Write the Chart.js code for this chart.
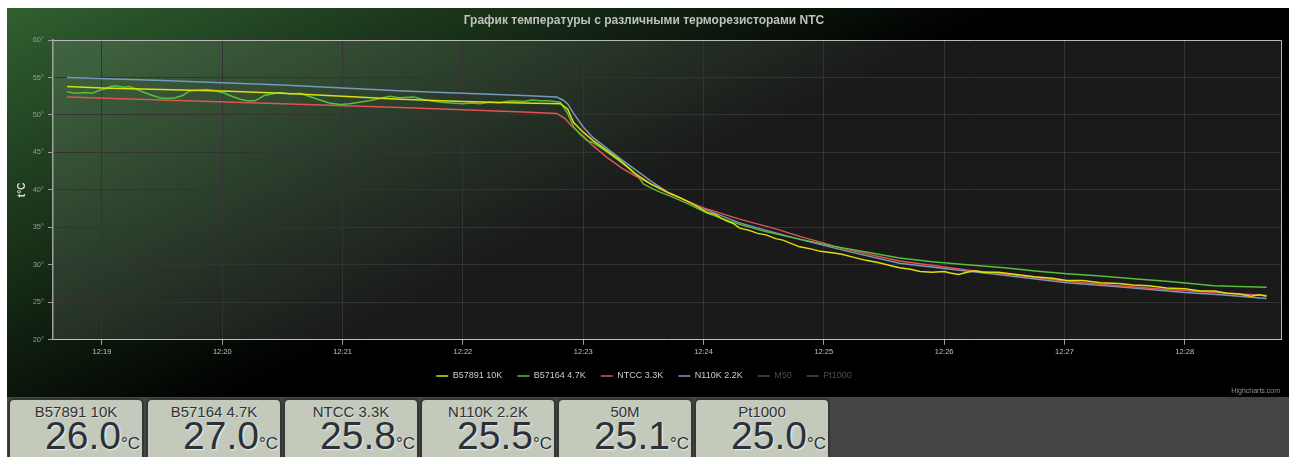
<!DOCTYPE html>
<html>
<head>
<meta charset="utf-8">
<script src="https://cdn.jsdelivr.net/npm/chart.js@4.4.1/dist/chart.umd.min.js"></script>
<style>
  html, body { margin:0; padding:0; background:#fff; width:1293px; height:457px; overflow:hidden; }
  #wrap { position:absolute; left:7px; top:8px; width:1282px; height:389px; background:#000; }
  #panel { position:absolute; left:7px; top:397px; width:1282px; height:60px; background:#444; overflow:hidden; }
  .card { position:absolute; top:1px; width:136px; height:64px; box-sizing:border-box;
          background:#c3c9bb; border:2px solid #363636; border-radius:6px 6px 0 0;
          font-family:"Liberation Sans", Arial, sans-serif; color:#2c3038; }
  .name { position:absolute; left:0; right:0; top:3px; text-align:center; font-size:15px; line-height:17px;
          color:#333; text-shadow:1px 1px 1px rgba(255,255,255,0.5); }
  .val { position:absolute; right:2px; top:16px; font-size:39px; line-height:40px; white-space:nowrap;
         text-shadow:1px 1px 2px rgba(255,255,255,0.75); }
  .val span { font-size:17px; }
</style>
</head>
<body>
<div id="wrap"><canvas id="c" width="1282" height="389"></canvas></div>
<div id="panel"></div>
<script>
// ---- data (x = minutes after 12:00, y = °C) ----
const chartTitle = 'График температуры с различными терморезисторами NTC';
const seriesNames = ['B57891 10K', 'B57164 4.7K', 'NTCC 3.3K', 'N110K 2.2K', 'M50', 'Pt1000'];
const seriesColors = ['#DDDF0D', '#55BF3B', '#DF5353', '#7798BF', '#aaeeee', '#ff0066'];
const xTickMinutes = [19, 20, 21, 22, 23, 24, 25, 26, 27, 28];
const xTickLabels = ['12:19', '12:20', '12:21', '12:22', '12:23', '12:24', '12:25', '12:26', '12:27', '12:28'];
const yTickValues = [20, 25, 30, 35, 40, 45, 50, 55, 60];

const yellowPoints = [
  [18.71,53.8],[19.0,53.6],[19.5,53.4],[20.0,53.2],[20.5,52.9],[21.0,52.5],[21.48,52.1],[22.0,51.8],
  [22.5,51.6],[22.81,51.5],[22.87,50.8],[22.92,49.0],[23.0,47.7],[23.08,46.6],[23.2,45.2],[23.31,43.9],
  [23.42,42.3],[23.56,40.8],[23.7,39.7],[23.8,39.0],[23.9,38.2],[24.03,37.0],[24.1,36.7],[24.15,36.2],
  [24.2,35.8],[24.25,35.5],[24.3,34.9],[24.38,34.6],[24.45,34.2],[24.52,34.0],[24.6,33.5],[24.66,33.3],
  [24.72,32.9],[24.8,32.4],[24.9,32.1],[24.97,31.8],[25.07,31.6],[25.15,31.4],[25.25,31.0],[25.35,30.6],
  [25.45,30.3],[25.55,29.9],[25.63,29.6],[25.72,29.4],[25.8,29.1],[25.9,29.0],[26.0,29.1],[26.05,28.9],
  [26.12,28.7],[26.19,29.0],[26.26,29.2],[26.32,29.0],[26.45,29.0],[26.6,28.7],[26.75,28.4],[26.9,28.2],
  [27.02,27.9],[27.15,27.9],[27.3,27.6],[27.45,27.5],[27.57,27.3],[27.7,27.2],[27.85,26.9],[28.0,26.8],
  [28.13,26.5],[28.25,26.5],[28.35,26.2],[28.45,26.1],[28.55,25.8],[28.62,26.0],[28.68,25.8]
];
const greenPoints = [
  [18.71,53.1],[18.78,52.9],[18.86,53.0],[18.92,52.9],[18.98,53.3],[19.03,53.5],[19.07,53.8],[19.12,53.9],
  [19.18,53.7],[19.23,53.8],[19.28,53.5],[19.32,53.2],[19.37,52.9],[19.42,52.6],[19.48,52.3],[19.54,52.2],
  [19.61,52.3],[19.67,52.6],[19.73,53.2],[19.79,53.3],[19.86,53.4],[19.92,53.3],[19.97,53.1],[20.02,52.9],
  [20.08,52.5],[20.15,52.1],[20.21,51.9],[20.27,51.9],[20.31,52.2],[20.35,52.6],[20.41,52.8],[20.48,53.0],
  [20.56,52.8],[20.65,52.9],[20.72,52.5],[20.81,52.0],[20.89,51.6],[20.98,51.4],[21.06,51.5],[21.14,51.7],
  [21.22,51.9],[21.31,52.2],[21.39,52.5],[21.47,52.3],[21.59,52.4],[21.66,52.1],[21.73,51.9],[21.82,51.7],
  [21.9,51.6],[22.0,51.5],[22.07,51.6],[22.14,51.5],[22.22,51.7],[22.3,51.6],[22.36,51.8],[22.42,51.9],
  [22.5,51.8],[22.58,52.0],[22.64,51.9],[22.7,51.9],[22.76,51.8],[22.81,51.7],[22.87,50.2],[22.92,48.4],
  [22.97,47.5],[23.03,46.6],[23.08,46.3],[23.14,45.7],[23.21,44.9],[23.28,44.1],[23.33,43.5],[23.39,42.8],
  [23.45,41.9],[23.5,40.8],[23.56,40.3],[23.61,39.9],[23.67,39.5],[23.72,39.2],[23.85,38.3],[24.03,36.9],
  [24.15,36.2],[24.3,35.4],[24.5,34.5],[24.72,33.7],[24.9,33.1],[25.1,32.4],[25.35,31.7],[25.63,30.9],
  [25.9,30.4],[26.19,30.0],[26.5,29.6],[26.8,29.1],[27.02,28.8],[27.3,28.5],[27.6,28.1],[27.85,27.8],
  [28.05,27.5],[28.24,27.2],[28.45,27.1],[28.68,27.0]
];
const redPoints = [
  [18.71,52.4],[19.5,52.0],[20.5,51.5],[21.48,51.0],[22.0,50.7],[22.5,50.4],[22.78,50.2],[22.85,49.5],
  [22.9,48.6],[23.0,47.2],[23.08,45.9],[23.2,44.3],[23.33,42.8],[23.45,41.7],[23.56,40.8],[23.7,39.6],
  [24.0,37.6],[24.3,36.1],[24.6,34.8],[24.8,33.8],[25.2,32.0],[25.63,30.5],[26.19,29.3],[26.6,28.6],
  [27.02,27.8],[27.45,27.2],[27.85,26.7],[28.25,26.3],[28.68,25.9]
];
const bluePoints = [
  [18.71,55.0],[19.5,54.6],[20.5,54.0],[21.5,53.2],[22.0,52.9],[22.5,52.6],[22.78,52.4],[22.83,52.0],
  [22.87,51.5],[22.92,50.2],[23.0,48.4],[23.08,47.0],[23.2,45.5],[23.33,43.9],[23.45,42.5],[23.56,41.2],
  [23.7,39.7],[23.85,38.6],[24.03,37.3],[24.3,35.6],[24.5,34.7],[24.8,33.4],[25.2,31.8],[25.63,30.2],
  [26.0,29.5],[26.5,28.6],[27.02,27.6],[27.5,27.0],[28.0,26.3],[28.3,26.0],[28.68,25.5]
];
const m50Points = [];
const pt1000Points = [];

const cardNames = ['B57891 10K', 'B57164 4.7K', 'NTCC 3.3K', 'N110K 2.2K', '50M', 'Pt1000'];
const cardValues = ['26.0', '27.0', '25.8', '25.5', '25.1', '25.0'];
const cardLefts = [1, 139, 276, 413, 550, 687];

// ---- cards ----
const panel = document.getElementById('panel');
cardNames.forEach((n, i) => {
  const d = document.createElement('div');
  d.className = 'card';
  d.style.left = cardLefts[i] + 'px';
  d.innerHTML = '<div class="name">' + n + '</div><div class="val">' + cardValues[i] + '<span>°C</span></div>';
  panel.appendChild(d);
});

// ---- chart ----
const allPoints = [yellowPoints, greenPoints, redPoints, bluePoints, m50Points, pt1000Points];
const toXY = arr => arr.map(p => ({x: p[0], y: p[1]}));

const bgPlugin = {
  id: 'bg',
  beforeDraw(chart) {
    const {ctx, chartArea: a, width, height} = chart;
    ctx.save();
    const g = ctx.createLinearGradient(0, 0, 200, 400);
    g.addColorStop(0, 'rgb(48,96,48)');
    g.addColorStop(1, 'rgb(0,0,0)');
    ctx.fillStyle = g;
    ctx.fillRect(0, 0, width, height);
    ctx.fillStyle = 'rgba(255,255,255,0.1)';
    ctx.fillRect(a.left, a.top, a.right - a.left, a.bottom - a.top);
    ctx.restore();
  },
  afterDraw(chart) {
    const {ctx, chartArea: a, width, height} = chart;
    ctx.save();
    ctx.strokeStyle = '#bbbbbb';
    ctx.lineWidth = 1;
    ctx.beginPath();
    ctx.moveTo(a.left, a.top + 0.5); ctx.lineTo(a.right + 0.5, a.top + 0.5);
    ctx.lineTo(a.right + 0.5, a.bottom);
    ctx.stroke();
    ctx.fillStyle = '#909090';
    ctx.font = '7px "Liberation Sans", Arial, sans-serif';
    ctx.textAlign = 'right';
    ctx.textBaseline = 'middle';
    ctx.fillText('Highcharts.com', width - 9, height - 6);
    ctx.restore();
  }
};

new Chart(document.getElementById('c'), {
  type: 'line',
  data: {
    datasets: seriesNames.map((name, i) => ({
      label: name,
      data: toXY(allPoints[i]),
      borderColor: seriesColors[i],
      backgroundColor: seriesColors[i],
      borderWidth: 1.5,
      pointRadius: 0,
      tension: 0,
      fill: false,
      hidden: i >= 4
    }))
  },
  options: {
    responsive: false,
    animation: false,
    devicePixelRatio: 1,
    layout: { padding: { left: 0, right: 8, top: 0, bottom: 6.6 } },
    plugins: {
      title: {
        display: true,
        text: chartTitle,
        color: '#C0C0C0',
        font: { family: '"Liberation Sans", Arial, sans-serif', size: 12, weight: 'bold' },
        padding: { top: 5, bottom: 12.6 }
      },
      legend: {
        position: 'bottom',
        labels: {
          color: '#CCCCCC',
          font: { family: '"Liberation Sans", Arial, sans-serif', size: 9 },
          usePointStyle: true,
          pointStyle: 'line',
          pointStyleWidth: 12,
          boxHeight: 9,
          padding: 15,
          generateLabels(chart) {
            const items = Chart.defaults.plugins.legend.labels.generateLabels(chart);
            items.forEach(it => {
              it.pointStyle = 'line';
              if (it.hidden) { it.fontColor = '#4d4d4d'; it.strokeStyle = '#4d4d4d'; it.hidden = false; }
            });
            return items;
          }
        }
      },
      tooltip: { enabled: false }
    },
    scales: {
      x: {
        type: 'linear',
        min: 18.593,
        max: 28.80,
        afterBuildTicks(axis) { axis.ticks = xTickMinutes.map(v => ({ value: v })); },
        afterFit(axis) { axis.height = 16.6; },
        ticks: {
          color: '#C0C0C0',
          font: { family: '"Liberation Sans", Arial, sans-serif', size: 7.5 },
          padding: 3,
          maxRotation: 0,
          autoSkip: false,
          callback(v) { const k = xTickMinutes.indexOf(v); return k >= 0 ? xTickLabels[k] : ''; }
        },
        grid: { color: '#333333', tickColor: '#A0A0A0', tickLength: 5, lineWidth: 1 },
        border: { color: '#C0C0C0', width: 1 }
      },
      y: {
        min: 20,
        max: 60,
        afterBuildTicks(axis) { axis.ticks = yTickValues.map(v => ({ value: v })); },
        afterFit(axis) { axis.width = 46; },
        ticks: {
          color: '#999999',
          font: { family: '"Liberation Sans", Arial, sans-serif', size: 7.5 },
          padding: 4,
          callback(v) { return v + '°'; }
        },
        grid: { color: '#333333', tickColor: '#A0A0A0', tickLength: 5, lineWidth: 1 },
        border: { color: '#A0A0A0', width: 1.5 },
        title: {
          display: true,
          text: 't°C',
          color: '#DDDDDD',
          font: { family: '"Liberation Sans", Arial, sans-serif', size: 10, weight: 'bold' },
          padding: { top: 9, bottom: 0 }
        }
      }
    }
  },
  plugins: [bgPlugin]
});
</script>
</body>
</html>
